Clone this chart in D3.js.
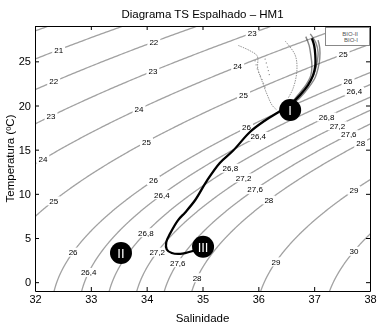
<!DOCTYPE html>
<html>
<head>
<meta charset="utf-8">
<script src="https://cdn.jsdelivr.net/npm/d3@7"></script>
<style>
  html, body { margin: 0; padding: 0; background: #fff; }
  svg { display: block; font-family: "Liberation Sans", Arial, Helvetica, sans-serif; }
</style>
</head>
<body>
<svg id="chart" width="381" height="330"></svg>
<script>
// Axis ticks
const salinityTicks = [32, 33, 34, 35, 36, 37, 38];
const temperatureTicks = [0, 5, 10, 15, 20, 25];

// Isopycnal (sigma-t) levels drawn in the background
const sigmaLevels = [20, 21, 22, 23, 24, 25, 26, 26.4, 26.8, 27.2, 27.6, 28, 29, 30];

// Isopycnal labels: text and approximate (salinity, temperature) position
const contourLabelText = ["21", "22", "23", "22", "23", "24", "23", "24", "25", "26", "26,4",
  "24", "25", "25", "26", "26,4", "26,8", "27,2", "27,6", "28", "26", "26,4",
  "26,8", "27,2", "27,6", "28", "29", "29", "30", "25", "26", "26,4", "26,8", "27,2", "27,6", "28"];
const contourLabelS = [32.41, 34.10, 35.89, 32.30, 34.10, 35.62, 32.25, 33.84, 35.71, 35.76, 35.99,
  32.13, 33.97, 32.32, 34.10, 34.26, 33.99, 34.13, 34.56, 34.90, 32.66, 32.99,
  35.49, 35.73, 35.94, 36.19, 36.32, 37.71, 37.70, 37.50, 37.59, 37.70, 37.19, 37.41, 37.61, 37.86];
const contourLabelT = [26.81, 27.38, 28.28, 23.08, 24.21, 24.55, 19.12, 19.80, 21.38, 17.76, 16.40,
  14.14, 16.06, 9.39, 11.76, 10.07, 5.54, 3.73, 2.15, 0.45, 3.51, 1.02,
  13.12, 11.88, 10.52, 9.28, 2.26, 10.52, 3.51, 25.79, 22.96, 21.61, 18.89, 17.76, 16.63, 15.61];

// BIO-II profiles (salinity, temperature)
const bio2MainS = [36.96, 37.00, 37.02, 37.02, 36.98, 36.89, 36.75, 36.57, 36.35, 36.12, 35.85, 35.55,
  35.31, 35.08, 34.87, 34.69, 34.56, 34.42, 34.35, 34.36, 34.45, 34.60, 34.81, 35.01];
const bio2MainT = [27.6, 26.8, 25.7, 24.5, 23.4, 22.3, 21.2, 20.1, 19.2, 18.3, 17.0, 14.9,
  13.5, 11.5, 9.3, 7.9, 7.0, 5.5, 4.5, 3.7, 3.3, 3.2, 3.5, 4.0];
const bio2UpperA_S = [36.85, 36.91, 36.94, 36.96, 36.94, 36.85, 36.71, 36.57];
const bio2UpperA_T = [27.8, 26.8, 25.7, 24.5, 23.4, 22.3, 21.2, 20.1];
const bio2UpperB_S = [37.07, 37.10, 37.10, 37.07, 37.02, 36.91, 36.75, 36.57];
const bio2UpperB_T = [27.4, 26.5, 25.3, 24.2, 23.2, 22.1, 20.9, 20.0];
const bio2UpperC_S = [36.93, 37.03, 37.07, 37.05, 37.00, 36.89];
const bio2UpperC_T = [28.1, 27.1, 26.0, 24.8, 23.6, 22.4];

// BIO-I profiles (salinity, temperature)
const bio1A_S = [35.64, 35.85, 35.98, 35.99, 36.07, 36.16, 36.25, 36.33];
const bio1A_T = [26.8, 26.2, 25.6, 24.2, 22.7, 21.2, 20.0, 19.5];
const bio1B_S = [36.48, 36.66, 36.69, 36.62, 36.53];
const bio1B_T = [27.3, 25.7, 23.9, 21.9, 20.8];
const bio1C_S = [35.94, 35.99, 36.07, 36.14];
const bio1C_T = [25.1, 24.0, 22.9, 21.7];
const bio1D_S = [36.12, 36.17, 36.21];
const bio1D_T = [25.3, 24.2, 23.1];

// Water mass markers
const massNames = ["I", "II", "III"];
const massS = [36.57, 33.54, 35.01];
const massT = [19.5, 3.3, 4.0];

const legendNames = ["BIO-II", "BIO-I"];

// ---------------------------------------------------------------
const svg = d3.select("#chart");
const plot = { left: 35, right: 370, top: 26, bottom: 291 };

const x = d3.scaleLinear().domain([32, 38]).range([plot.left, plot.right]);
const y = d3.scaleLinear().domain([-1, 29]).range([plot.bottom, plot.top]);

// Sea-water density anomaly at the surface (UNESCO 1983 equation of state)
function sigmaT(S, T) {
  const rw = 999.842594 + 6.793952e-2 * T - 9.095290e-3 * T * T + 1.001685e-4 * T ** 3
    - 1.120083e-6 * T ** 4 + 6.536332e-9 * T ** 5;
  const A = 8.24493e-1 - 4.0899e-3 * T + 7.6438e-5 * T * T - 8.2467e-7 * T ** 3 + 5.3875e-9 * T ** 4;
  const B = -5.72466e-3 + 1.0227e-4 * T - 1.6546e-6 * T * T;
  const C = 4.8314e-4;
  return rw + A * S + B * S ** 1.5 + C * S * S - 1000;
}
// Salinity on a given isopycnal at temperature T (density rises with salinity)
function salinityOn(level, T) {
  let lo = 20, hi = 45;
  for (let i = 0; i < 50; i++) {
    const mid = (lo + hi) / 2;
    if (sigmaT(mid, T) < level) lo = mid; else hi = mid;
  }
  return (lo + hi) / 2;
}

svg.append("defs").append("clipPath").attr("id", "plotClip")
  .append("rect")
  .attr("x", plot.left).attr("y", plot.top)
  .attr("width", plot.right - plot.left).attr("height", plot.bottom - plot.top);

const g = svg.append("g").attr("clip-path", "url(#plotClip)");

// Isopycnal lines
const tempSamples = d3.range(-2, 30.01, 0.1);
const isolines = sigmaLevels.map(level => ({
  level,
  pts: tempSamples.map(T => [x(salinityOn(level, T)), y(T)])
}));
const line = d3.line().curve(d3.curveLinear);
g.append("g").selectAll("path").data(isolines).join("path")
  .attr("d", d => line(d.pts))
  .attr("fill", "none")
  .attr("stroke", "#a2a2a2")
  .attr("stroke-width", 1.3);

// Isopycnal labels, placed on their line with a white gap behind
const labels = contourLabelText.map((txt, i) => {
  const level = +txt.replace(",", ".");
  const iso = isolines.find(d => Math.abs(d.level - level) < 1e-6);
  const px = x(contourLabelS[i]), py = y(contourLabelT[i]);
  const best = d3.least(iso.pts, p => (p[0] - px) ** 2 + (p[1] - py) ** 2);
  return { txt, cx: best[0], cy: best[1] };
});
const labelLayer = g.append("g").attr("opacity", 0.999);
const lab = labelLayer.selectAll("g").data(labels).join("g")
  .attr("transform", d => `translate(${d.cx},${d.cy})`);
lab.append("rect").attr("fill", "#fff");
lab.append("text")
  .attr("text-anchor", "middle")
  .attr("dy", "0.35em")
  .attr("font-size", 8)
  .attr("fill", "#000")
  .text(d => d.txt);
lab.each(function () {
  const t = d3.select(this).select("text").node();
  const w = t.getComputedTextLength();
  d3.select(this).select("rect")
    .attr("x", -w / 2 - 2).attr("y", -4.5).attr("width", w + 4).attr("height", 9);
});

// Profile paths
const profile = d3.line().x(d => x(d[0])).y(d => y(d[1])).curve(d3.curveCatmullRom.alpha(0.5));
const zipST = (S, T) => S.map((s, i) => [s, T[i]]);

// BIO-I (thin grey, dotted)
const bio1 = [zipST(bio1A_S, bio1A_T), zipST(bio1B_S, bio1B_T)];
g.append("g").selectAll("path").data(bio1).join("path")
  .attr("d", profile)
  .attr("fill", "none")
  .attr("stroke", "#8a8a8a")
  .attr("stroke-width", 0.9)
  .attr("stroke-dasharray", "1.5,1");
const bio1dots = [zipST(bio1C_S, bio1C_T), zipST(bio1D_S, bio1D_T)];
g.append("g").selectAll("path").data(bio1dots).join("path")
  .attr("d", profile)
  .attr("fill", "none")
  .attr("stroke", "#8a8a8a")
  .attr("stroke-width", 1.2)
  .attr("stroke-dasharray", "1,3");

// BIO-II (dark bundle)
const bio2upper = [zipST(bio2UpperA_S, bio2UpperA_T), zipST(bio2UpperB_S, bio2UpperB_T), zipST(bio2UpperC_S, bio2UpperC_T)];
g.append("g").selectAll("path").data(bio2upper).join("path")
  .attr("d", profile)
  .attr("fill", "none")
  .attr("stroke", "#222")
  .attr("stroke-opacity", 0.55)
  .attr("stroke-width", 1.4);
g.append("path")
  .datum(zipST(bio2MainS, bio2MainT))
  .attr("d", profile)
  .attr("fill", "none")
  .attr("stroke", "#000")
  .attr("stroke-width", 2.3)
  .attr("stroke-linejoin", "round");

// Water mass markers
const marks = svg.append("g").selectAll("g").data(massNames).join("g")
  .attr("transform", (d, i) => `translate(${x(massS[i])},${y(massT[i])})`);
marks.append("circle").attr("r", 11).attr("fill", "#000");
marks.append("text")
  .attr("text-anchor", "middle")
  .attr("dy", "0.36em")
  .attr("font-size", 13)
  .attr("fill", "#fff")
  .text(d => d);

// Legend
const leg = svg.append("g").attr("opacity", 0.999);
leg.append("rect")
  .attr("x", 325.5).attr("y", 27.5).attr("width", 44).attr("height", 18)
  .attr("fill", "#fff").attr("stroke", "#888").attr("stroke-width", 1);
leg.selectAll("text").data(legendNames).join("text")
  .attr("x", 358).attr("y", (d, i) => 35.5 + i * 6.5)
  .attr("text-anchor", "end")
  .attr("font-size", 6)
  .attr("fill", "#555")
  .text(d => d);

// Axes (ticks pointing inward on all four sides)
const styleAxis = sel => {
  sel.select(".domain").attr("stroke", "#000").attr("stroke-width", 1);
  sel.selectAll(".tick line").attr("stroke", "#000");
  sel.selectAll(".tick text").attr("font-size", 11).attr("fill", "#000");
};
const fmt = d3.format("d");
svg.append("g").attr("transform", `translate(0,${plot.bottom})`)
  .call(d3.axisBottom(x).tickValues(salinityTicks).tickFormat(fmt).tickSizeInner(-4).tickSizeOuter(0).tickPadding(4))
  .call(styleAxis);
svg.append("g").attr("transform", `translate(0,${plot.top})`)
  .call(d3.axisTop(x).tickValues(salinityTicks).tickSizeInner(-4).tickSizeOuter(0).tickFormat(""))
  .call(styleAxis);
svg.append("g").attr("transform", `translate(${plot.left},0)`)
  .call(d3.axisLeft(y).tickValues(temperatureTicks).tickFormat(fmt).tickSizeInner(-4).tickSizeOuter(0).tickPadding(4))
  .call(styleAxis);
svg.append("g").attr("transform", `translate(${plot.right},0)`)
  .call(d3.axisRight(y).tickValues(temperatureTicks).tickSizeInner(-4).tickSizeOuter(0).tickFormat(""))
  .call(styleAxis);

// Titles
svg.append("text")
  .attr("x", (plot.left + plot.right) / 2).attr("y", 18)
  .attr("text-anchor", "middle").attr("font-size", 11.5)
  .text("Diagrama TS Espalhado – HM1");
svg.append("text")
  .attr("x", (plot.left + plot.right) / 2).attr("y", 322)
  .attr("text-anchor", "middle").attr("font-size", 11.5)
  .text("Salinidade");
svg.append("text")
  .attr("transform", `translate(14,${(plot.top + plot.bottom) / 2}) rotate(-90)`)
  .attr("text-anchor", "middle").attr("font-size", 11.5)
  .text("Temperatura (ºC)");
</script>
</body>
</html>
